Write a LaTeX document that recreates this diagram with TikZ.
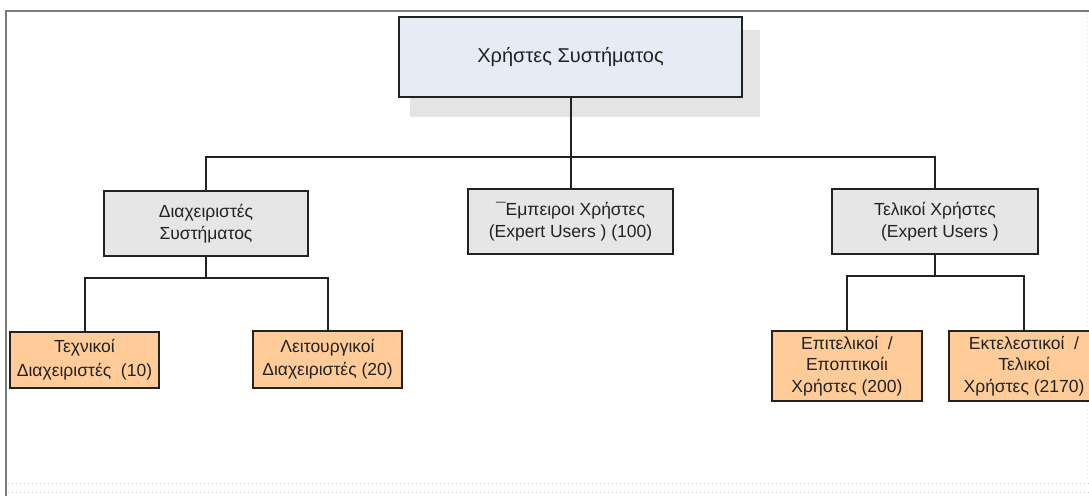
\documentclass[tikz,border=0pt]{standalone}
\usepackage{fontspec}
\setmainfont{Liberation Sans}
\definecolor{framegray}{HTML}{7A7A7A}
\definecolor{dotgray}{HTML}{C8C8C8}
\definecolor{topfill}{HTML}{E6ECF6}
\definecolor{midfill}{HTML}{E6E6E6}
\definecolor{leaffill}{HTML}{FFCC99}
\definecolor{shadowgray}{HTML}{E4E4E4}
\definecolor{inkcol}{HTML}{222222}
\tikzset{
  box/.style={draw=inkcol, line width=2pt, align=center, inner sep=0pt, text=inkcol},
  rootbox/.style={box, fill=topfill, minimum width=343pt, minimum height=80pt, font=\fontsize{20}{24}\selectfont},
  midbox/.style={box, fill=midfill, minimum width=204pt, minimum height=65pt, font=\fontsize{17.5}{21.5}\selectfont},
  leafbox/.style={box, fill=leaffill, minimum width=149pt, font=\fontsize{17.5}{21.5}\selectfont},
  link/.style={draw=inkcol, line width=2pt},
}
\begin{document}
\begin{tikzpicture}[x=1pt, y=-1pt]
  \useasboundingbox (0,0) rectangle (1089,495);
  \clip (0,0) rectangle (1089,495);

  % page frame
  \draw[framegray, line width=2pt] (6,496) -- (6,11) -- (1090,11);
  \draw[dotgray, line width=0.8pt, dash pattern=on 1pt off 3pt] (8,483) -- (1089,483);
  \draw[dotgray, line width=0.8pt, dash pattern=on 1pt off 3pt] (8,492) -- (1089,492);
  \draw[dotgray!60, line width=0.8pt, dash pattern=on 1pt off 3pt] (1087,14) -- (1087,482);

  % root with its drop shadow
  \fill[shadowgray] (410,30) rectangle (760,117);
  \node[rootbox] (root) at (570.5,57) {Χρήστες Συστήματος};

  % second level
  \node[midbox] (admin) at (206,223.5) {Διαχειριστές\\Συστήματος};
  \node[midbox, minimum width=205pt] (expert) at (570.5,221.5) {¯Εμπειροι Χρήστες\\(Expert Users ) (100)};
  \node[midbox, minimum width=206pt] (final) at (935,221.5) {Τελικοί Χρήστες\\\ \ (Expert Users )};

  % third level
  \node[leafbox, minimum height=56pt, font=\fontsize{17.5}{24}\selectfont] (tech) at (84.5,360) {Τεχνικοί\\Διαχειριστές\ \ (10)};
  \node[leafbox, minimum height=57pt, font=\fontsize{17.5}{23}\selectfont] (oper) at (327.5,359.5) {Λειτουργικοί\\Διαχειριστές (20)};
  \node[leafbox, minimum width=150pt, minimum height=70pt] (exec) at (847,366) {Επιτελικοί\ \ /\\Εποπτικοίι\\Χρήστες (200)};
  \node[leafbox, minimum width=150pt, minimum height=70pt] (enduser) at (1024,366) {Εκτελεστικοί\ \ /\\Τελικοί\\Χρήστες (2170)};

  % bus junctions
  \coordinate (busA) at (570.5,157);
  \coordinate (busB) at (206,278);
  \coordinate (busC) at (935,276);

  % connectors
  \draw[link] (root.south) -- (busA);
  \draw[link] (admin.north) |- (busA) -| (final.north);
  \draw[link] (expert.north) -- (busA);
  \draw[link] (admin.south) -- (busB);
  \draw[link] (tech.north) |- (busB) -| (oper.north);
  \draw[link] (final.south) -- (busC);
  \draw[link] (exec.north) |- (busC) -| (enduser.north);
\end{tikzpicture}
\end{document}
